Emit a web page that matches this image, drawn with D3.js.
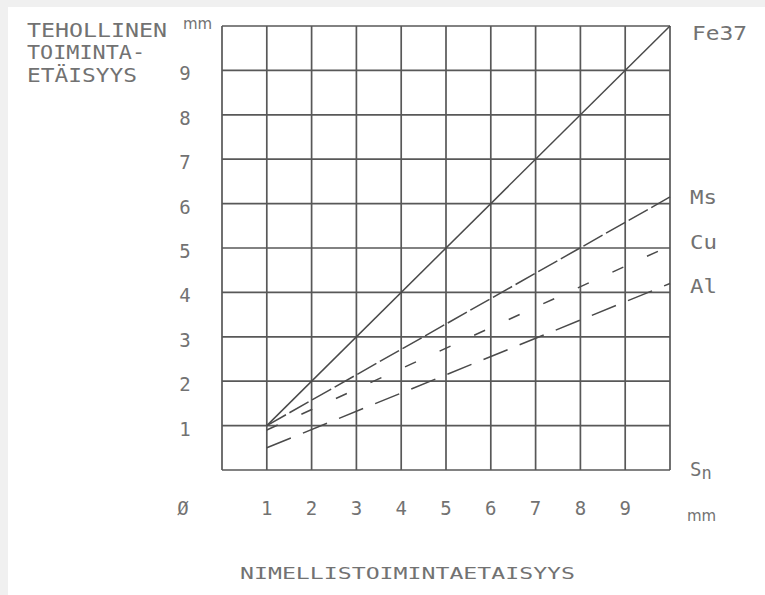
<!DOCTYPE html>
<html>
<head>
<meta charset="utf-8">
<script src="https://cdn.jsdelivr.net/npm/d3@7"></script>
<style>
  html, body { margin: 0; padding: 0; background: #f0f0f0; }
  svg { display: block; }
  text { font-family: "DejaVu Sans Mono", monospace; fill: #727272; }
  text.unit { font-family: "DejaVu Sans", sans-serif; }
</style>
</head>
<body>
<svg id="chart" width="765" height="595"></svg>
<script>
// ---- data ----
const gridValues = [0, 1, 2, 3, 4, 5, 6, 7, 8, 9, 10];
const xTickValues = [1, 2, 3, 4, 5, 6, 7, 8, 9];
const xTickLabels = ["1", "2", "3", "4", "5", "6", "7", "8", "9"];
const yTickValues = [1, 2, 3, 4, 5, 6, 7, 8, 9];
const yTickLabels = ["1", "2", "3", "4", "5", "6", "7", "8", "9"];
const zeroLabel = "Ø";
const seriesNames = ["Fe37", "Ms", "Cu", "Al"];
const nominalX = [1, 10];
const fe37 = [1, 10];
const ms = [1, 6.15];
const cu = [0.9, 5.05];
const al = [0.5, 4.2];
const yTitle = ["TEHOLLINEN", "TOIMINTA-", "ETÄISYYS"];
const xTitle = "NIMELLISTOIMINTAETAISYYS";

// ---- layout ----
const svg = d3.select("#chart");
svg.append("rect").attr("x", 8).attr("y", 7).attr("width", 757).attr("height", 588).attr("fill", "#fff");

const x = d3.scaleLinear().domain([0, 10]).range([222, 670]);
const y = d3.scaleLinear().domain([0, 10]).range([470, 26]);

const gridColor = "#585858";
const g = svg.append("g");
g.selectAll("line.v").data(gridValues).join("line")
  .attr("x1", d => x(d)).attr("x2", d => x(d))
  .attr("y1", y(0)).attr("y2", y(10))
  .attr("stroke", gridColor).attr("stroke-width", 1.7);
g.selectAll("line.h").data(gridValues).join("line")
  .attr("class", "h")
  .attr("y1", d => y(d)).attr("y2", d => y(d))
  .attr("x1", x(0)).attr("x2", x(10))
  .attr("stroke", gridColor).attr("stroke-width", 1.7);

// ---- series ----
const styles = [
  { data: fe37, dash: null },
  { data: ms, dash: "22,4" },
  { data: cu, dash: "12,26" },
  { data: al, dash: "26,13" }
];
const line = d3.line().x(d => x(d[0])).y(d => y(d[1]));
styles.forEach(s => {
  svg.append("path")
    .attr("d", line(nominalX.map((v, i) => [v, s.data[i]])))
    .attr("fill", "none")
    .attr("stroke", "#4a4a4a")
    .attr("stroke-width", 1.5)
    .attr("stroke-dasharray", s.dash);
});

// ---- tick labels ----
svg.selectAll("text.xt").data(xTickValues).join("text")
  .attr("x", d => x(d)).attr("y", 515)
  .attr("text-anchor", "middle").attr("font-size", 19)
  .text((d, i) => xTickLabels[i]);
svg.selectAll("text.yt").data(yTickValues).join("text")
  .attr("class", "yt")
  .attr("x", 185).attr("y", d => y(d) + 10)
  .attr("text-anchor", "middle").attr("font-size", 19)
  .text((d, i) => yTickLabels[i]);
svg.append("text").attr("x", 183).attr("y", 515).attr("text-anchor", "middle")
  .attr("font-size", 19).text(zeroLabel);
svg.append("text").attr("class", "unit").attr("x", 183).attr("y", 29)
  .attr("font-size", 15).text("mm");
svg.append("text").attr("class", "unit").attr("x", 687).attr("y", 521)
  .attr("font-size", 15).text("mm");

// ---- series labels ----
const labelY = [40, 204, 249, 293];
seriesNames.forEach((n, i) => {
  svg.append("text").attr("x", i === 0 ? 692 : 690).attr("y", labelY[i])
    .attr("font-size", 19).attr("textLength", i === 0 ? 55 : 27)
    .attr("lengthAdjust", "spacingAndGlyphs").text(n);
});
const sn = svg.append("text").attr("x", 690).attr("y", 476).attr("font-size", 19);
sn.append("tspan").text("S");
sn.append("tspan").attr("dy", 3).attr("font-size", 17).text("n");

// ---- titles ----
const titleBase = [37, 59, 82];
const titleLen = [140, 118, 110];
yTitle.forEach((t, i) => {
  svg.append("text").attr("x", 27).attr("y", titleBase[i])
    .attr("font-size", 20).attr("textLength", titleLen[i])
    .attr("lengthAdjust", "spacingAndGlyphs").text(t);
});
svg.append("text").attr("x", 240).attr("y", 579)
  .attr("font-size", 16).attr("textLength", 335)
  .attr("lengthAdjust", "spacingAndGlyphs").text(xTitle);
</script>
</body>
</html>
